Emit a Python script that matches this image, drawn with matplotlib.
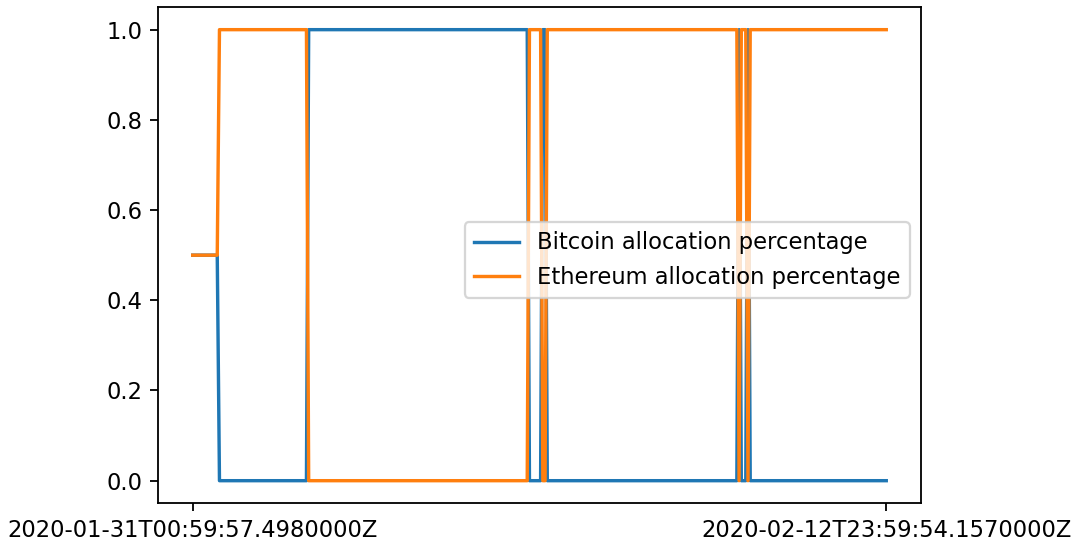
import numpy as np
import matplotlib
matplotlib.use('Agg')
from matplotlib import pyplot as plt

# hourly allocation, stored as runs of (value, number of hours)
btc_runs = [(0.5, 12), (0.0, 40), (1.0, 99), (0.0, 6), (1.0, 2), (0.0, 86),
            (1.0, 1), (0.0, 3), (1.0, 1), (0.0, 62)]
eth_runs = [(0.5, 12), (1.0, 40), (0.0, 99), (1.0, 6), (0.0, 2), (1.0, 86),
            (0.0, 1), (1.0, 3), (0.0, 1), (1.0, 62)]

first_time = '2020-01-31T00:59:57.4980000Z'
last_time = '2020-02-12T23:59:54.1570000Z'


def expand(runs):
    return np.concatenate([np.full(n, v) for v, n in runs])


btc = expand(btc_runs)
eth = expand(eth_runs)
hours = np.arange(len(btc))

plt.rcParams['figure.dpi'] = 163
fig = plt.figure(figsize=(1078 / 163, 547 / 163))
ax = fig.add_axes([0.1466, 0.08, 0.7077, 0.907])

ax.plot(hours, btc, label='Bitcoin allocation percentage')
ax.plot(hours, eth, label='Ethereum allocation percentage')
ax.set_xticks([hours[0], hours[-1]])
ax.set_xticklabels([first_time, last_time])
ax.legend(loc='center right', bbox_to_anchor=(1, 0.49))

fig.savefig('out.png', dpi=163)
